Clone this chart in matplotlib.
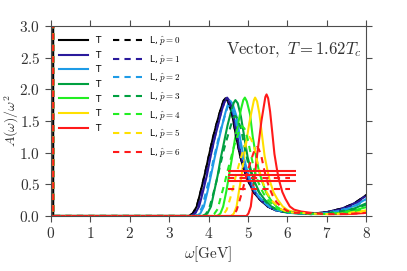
import matplotlib
matplotlib.use("Agg")
import matplotlib.pyplot as plt
from matplotlib.ticker import FuncFormatter

plt.rcParams['mathtext.fontset'] = 'cm'

colors = ['black', '#2a1a9c', '#1e9be6', '#00a040', '#22ee22', '#ffe000', '#ff1a1a']

# low-energy part: transport spike at omega ~ 0 (p=0 transverse and all longitudinal)
w_low = [0.0, 0.04, 0.06, 0.1]
A_low_spike = [60.0, 60.0, 0.0, 0.0]
A_low_flat = [0.0, 0.0, 0.0, 0.0]

# transverse (T) curves, p = 0..6
wT0 = [3.50, 3.60, 3.70, 3.80, 3.90, 4.00, 4.10, 4.20, 4.30, 4.38, 4.43, 4.50, 4.60, 4.70, 4.80, 4.90, 5.00, 5.15, 5.30, 5.50, 5.70, 6.0, 6.3, 6.6, 7.0, 7.4, 7.7, 8.0]
AT0 = [0, 0.04, 0.15, 0.39, 0.65, 0.93, 1.21, 1.45, 1.67, 1.82, 1.86, 1.80, 1.60, 1.25, 0.95, 0.73, 0.56, 0.37, 0.26, 0.15, 0.09, 0.06, 0.045, 0.035, 0.06, 0.12, 0.20, 0.33]

wT1 = [3.57, 3.66, 3.76, 3.86, 3.96, 4.05, 4.15, 4.25, 4.34, 4.42, 4.47, 4.54, 4.63, 4.73, 4.83, 4.93, 5.02, 5.17, 5.31, 5.51, 5.70, 6.0, 6.3, 6.6, 7.0, 7.4, 7.7, 8.0]
AT1 = [0, 0.04, 0.15, 0.39, 0.65, 0.94, 1.22, 1.46, 1.68, 1.83, 1.87, 1.81, 1.61, 1.25, 0.95, 0.73, 0.56, 0.37, 0.26, 0.15, 0.09, 0.06, 0.045, 0.035, 0.06, 0.12, 0.20, 0.32]

wT2 = [3.69, 3.79, 3.88, 3.97, 4.06, 4.15, 4.25, 4.34, 4.43, 4.50, 4.55, 4.61, 4.71, 4.80, 4.89, 4.98, 5.07, 5.21, 5.35, 5.53, 5.72, 6.0, 6.3, 6.6, 7.0, 7.4, 7.7, 8.0]
AT2 = [0, 0.04, 0.15, 0.38, 0.64, 0.91, 1.18, 1.42, 1.64, 1.78, 1.82, 1.77, 1.57, 1.22, 0.93, 0.71, 0.55, 0.36, 0.25, 0.15, 0.09, 0.05, 0.04, 0.03, 0.05, 0.10, 0.16, 0.27]

wT3 = [3.89, 3.97, 4.06, 4.14, 4.23, 4.31, 4.40, 4.48, 4.57, 4.64, 4.68, 4.74, 4.82, 4.91, 4.99, 5.08, 5.16, 5.29, 5.42, 5.59, 5.76, 6.0, 6.3, 6.6, 7.0, 7.4, 7.7, 8.0]
AT3 = [0, 0.04, 0.15, 0.38, 0.64, 0.92, 1.19, 1.43, 1.65, 1.79, 1.83, 1.78, 1.57, 1.23, 0.93, 0.71, 0.55, 0.37, 0.26, 0.15, 0.09, 0.055, 0.04, 0.03, 0.045, 0.08, 0.12, 0.20]

wT4 = [4.22, 4.30, 4.37, 4.45, 4.52, 4.60, 4.67, 4.75, 4.82, 4.88, 4.92, 4.97, 5.05, 5.12, 5.20, 5.27, 5.35, 5.46, 5.57, 5.72, 5.87, 6.1, 6.4, 6.7, 7.0, 7.4, 7.7, 8.0]
AT4 = [0, 0.04, 0.15, 0.39, 0.65, 0.94, 1.22, 1.46, 1.68, 1.83, 1.87, 1.81, 1.61, 1.25, 0.95, 0.73, 0.56, 0.37, 0.26, 0.15, 0.09, 0.055, 0.04, 0.03, 0.035, 0.06, 0.09, 0.14]

wT5 = [4.58, 4.64, 4.71, 4.77, 4.84, 4.90, 4.97, 5.03, 5.10, 5.15, 5.18, 5.23, 5.29, 5.36, 5.42, 5.49, 5.55, 5.65, 5.75, 5.88, 6.01, 6.2, 6.5, 6.8, 7.1, 7.4, 7.7, 8.0]
AT5 = [0, 0.04, 0.15, 0.39, 0.65, 0.94, 1.22, 1.46, 1.68, 1.83, 1.87, 1.81, 1.61, 1.25, 0.95, 0.73, 0.56, 0.37, 0.26, 0.15, 0.09, 0.06, 0.04, 0.03, 0.03, 0.04, 0.06, 0.09]

wT6 = [4.96, 5.01, 5.07, 5.12, 5.18, 5.23, 5.29, 5.34, 5.40, 5.44, 5.47, 5.51, 5.56, 5.62, 5.67, 5.73, 5.78, 5.87, 5.95, 6.06, 6.17, 6.35, 6.6, 6.9, 7.2, 7.5, 7.8, 8.0]
AT6 = [0, 0.04, 0.15, 0.40, 0.67, 0.96, 1.25, 1.50, 1.73, 1.88, 1.92, 1.86, 1.65, 1.29, 0.98, 0.75, 0.58, 0.38, 0.27, 0.15, 0.10, 0.07, 0.05, 0.035, 0.03, 0.03, 0.04, 0.05]

# longitudinal (L) curves, p = 0..6
wL0 = wT0
AL0 = AT0

wL1 = [3.55, 3.65, 3.74, 3.84, 3.94, 4.04, 4.14, 4.23, 4.33, 4.41, 4.46, 4.53, 4.63, 4.72, 4.82, 4.92, 5.02, 5.17, 5.31, 5.51, 5.70, 6.0, 6.3, 6.6, 7.0, 7.4, 7.7, 8.0]
AL1 = [0, 0.04, 0.15, 0.39, 0.65, 0.93, 1.20, 1.44, 1.67, 1.81, 1.85, 1.79, 1.59, 1.24, 0.94, 0.72, 0.56, 0.37, 0.26, 0.15, 0.09, 0.06, 0.045, 0.035, 0.055, 0.11, 0.19, 0.31]

wL2 = [3.65, 3.74, 3.84, 3.93, 4.03, 4.12, 4.22, 4.31, 4.41, 4.48, 4.53, 4.60, 4.69, 4.79, 4.88, 4.98, 5.07, 5.21, 5.36, 5.55, 5.74, 6.0, 6.3, 6.6, 7.0, 7.4, 7.7, 8.0]
AL2 = [0, 0.035, 0.14, 0.37, 0.61, 0.88, 1.14, 1.37, 1.58, 1.72, 1.75, 1.70, 1.51, 1.17, 0.89, 0.68, 0.53, 0.35, 0.25, 0.14, 0.09, 0.055, 0.04, 0.03, 0.05, 0.09, 0.15, 0.25]

wL3 = [3.84, 3.93, 4.02, 4.11, 4.20, 4.29, 4.38, 4.47, 4.56, 4.63, 4.68, 4.74, 4.83, 4.92, 5.01, 5.10, 5.19, 5.33, 5.46, 5.64, 5.82, 6.1, 6.4, 6.7, 7.0, 7.4, 7.7, 8.0]
AL3 = [0, 0.03, 0.13, 0.33, 0.55, 0.79, 1.03, 1.23, 1.42, 1.55, 1.58, 1.53, 1.36, 1.06, 0.81, 0.62, 0.47, 0.32, 0.22, 0.13, 0.08, 0.05, 0.04, 0.03, 0.04, 0.07, 0.11, 0.18]

wL4 = [4.06, 4.14, 4.23, 4.31, 4.40, 4.48, 4.57, 4.65, 4.74, 4.81, 4.85, 4.91, 4.99, 5.08, 5.16, 5.25, 5.33, 5.46, 5.59, 5.76, 5.93, 6.2, 6.5, 6.8, 7.1, 7.4, 7.7, 8.0]
AL4 = [0, 0.03, 0.11, 0.30, 0.50, 0.71, 0.92, 1.11, 1.28, 1.39, 1.42, 1.38, 1.22, 0.95, 0.72, 0.55, 0.43, 0.28, 0.20, 0.11, 0.07, 0.05, 0.04, 0.03, 0.035, 0.05, 0.08, 0.12]

wL5 = [4.30, 4.38, 4.46, 4.54, 4.62, 4.69, 4.77, 4.85, 4.93, 4.99, 5.03, 5.08, 5.16, 5.24, 5.32, 5.40, 5.47, 5.59, 5.71, 5.86, 6.02, 6.3, 6.6, 6.9, 7.2, 7.5, 7.8, 8.0]
AL5 = [0, 0.025, 0.10, 0.26, 0.44, 0.63, 0.81, 0.98, 1.13, 1.23, 1.25, 1.21, 1.08, 0.84, 0.64, 0.49, 0.38, 0.25, 0.18, 0.10, 0.06, 0.05, 0.04, 0.03, 0.03, 0.04, 0.06, 0.08]

wL6 = [4.57, 4.64, 4.71, 4.78, 4.85, 4.92, 4.99, 5.06, 5.13, 5.185, 5.22, 5.27, 5.34, 5.41, 5.48, 5.55, 5.62, 5.72, 5.83, 5.97, 6.11, 6.4, 6.7, 7.0, 7.3, 7.6, 7.8, 8.0]
AL6 = [0, 0.02, 0.09, 0.23, 0.38, 0.55, 0.71, 0.85, 0.98, 1.07, 1.09, 1.06, 0.94, 0.73, 0.56, 0.43, 0.33, 0.22, 0.15, 0.09, 0.05, 0.05, 0.04, 0.03, 0.03, 0.035, 0.04, 0.05]

wT = [wT0, wT1, wT2, wT3, wT4, wT5, wT6]
AT = [AT0, AT1, AT2, AT3, AT4, AT5, AT6]
wL = [wL0, wL1, wL2, wL3, wL4, wL5, wL6]
AL = [AL0, AL1, AL2, AL3, AL4, AL5, AL6]

# horizontal red bars
bar_solid_y = [0.71, 0.64, 0.56]
bar_solid_x = [4.5, 6.22]
bar_dash_y = [0.60, 0.42]
bar_dash_x = [4.5, 6.07]

fig = plt.figure(figsize=(4.07, 2.71), dpi=100)
ax = fig.add_axes([0.125, 0.203, 0.775, 0.701])

for i in range(7):
    low = A_low_spike if i == 0 else A_low_flat
    ax.plot(w_low + wT[i], low + AT[i], color=colors[i], lw=1.5, ls='-', label='T')
for i in range(7):
    ax.plot(w_low + wL[i], A_low_spike + AL[i], color=colors[i], lw=1.5, ls=(0, (3, 2.5)),
            label=r'L, $\hat{p} = %d$' % i)

ax.hlines(bar_solid_y, bar_solid_x[0], bar_solid_x[1], colors='#ff1a1a', lw=1.5)
ax.hlines(bar_dash_y, bar_dash_x[0], bar_dash_x[1], colors='#ff1a1a', lw=1.5, linestyles=(0, (3, 2.5)))

ax.set_xlim(0, 8)
ax.set_ylim(0, 3.0)
ax.set_xticks(range(0, 9))
ax.set_yticks([0.0, 0.5, 1.0, 1.5, 2.0, 2.5, 3.0])
ax.xaxis.set_major_formatter(FuncFormatter(lambda v, p: r'$%d$' % v))
ax.yaxis.set_major_formatter(FuncFormatter(lambda v, p: r'$%.1f$' % v))
ax.tick_params(direction='out', top=True, right=True, labeltop=False, labelright=False,
               labelsize=11, length=4, color='0.3', labelcolor='0.2')
for s in ax.spines.values():
    s.set_color('0.3')

ax.set_xlabel(r'$\omega[\mathrm{GeV}]$', fontsize=11, color='0.2', labelpad=2)
ax.set_ylabel(r'$A(\omega)/\omega^2$', fontsize=10, color='0.2', labelpad=-1)

ax.text(0.985, 0.875, r'$\mathrm{Vector,}\ T = 1.62T_c$', transform=ax.transAxes,
        ha='right', va='center', fontsize=12, color='0.2')

ax.legend(ncol=2, loc='upper left', frameon=False, fontsize=6.5, handlelength=3.2,
          columnspacing=1.4, labelspacing=0.62, borderaxespad=0.5, handletextpad=0.8)

fig.savefig('out.png', dpi=100)
